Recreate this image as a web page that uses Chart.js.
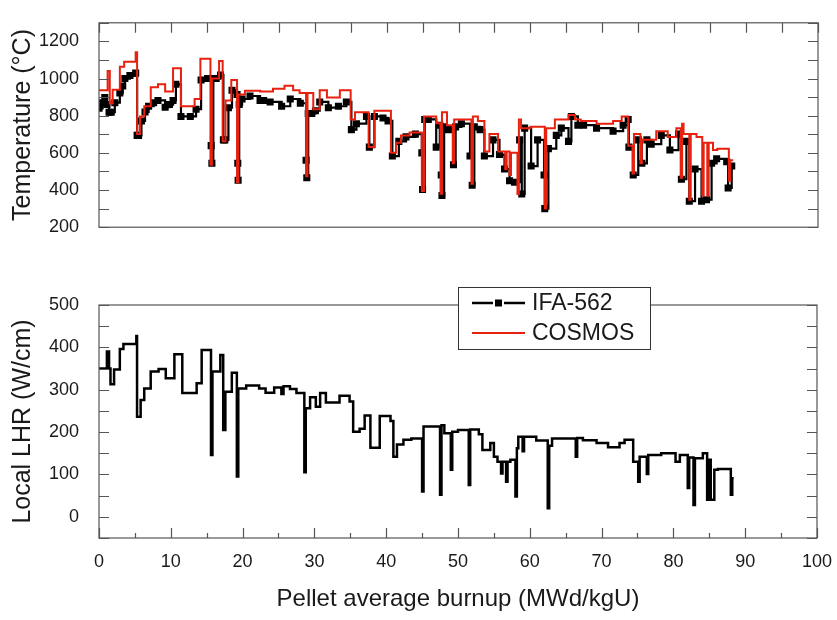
<!DOCTYPE html>
<html>
<head>
<meta charset="utf-8">
<script src="https://cdn.jsdelivr.net/npm/chart.js@4.4.1/dist/chart.umd.min.js"></script>
<style>
  body { margin: 0; background: #fff; }
  #wrap { position: relative; width: 837px; height: 620px; }
  canvas { position: absolute; left: 0; }
</style>
</head>
<body>
<div id="wrap">
  <canvas id="tempChart" width="837" height="250" style="top:0"></canvas>
  <canvas id="lhrChart" width="837" height="360" style="top:260px"></canvas>
</div>
<script>
// x ticks (burnup, MWd/kgU)
const burnupTicks = [0, 10, 20, 30, 40, 50, 60, 70, 80, 90, 100];
const tempTicks = [200, 400, 600, 800, 1000, 1200];
const lhrTicks = [0, 100, 200, 300, 400, 500];

// COSMOS calculated centre temperature (step: value holds until next burnup)
const cosmosBurnup = [0, 1.2, 1.5, 1.9, 2.9, 3.5, 5.1, 5.3, 5.7, 6.3, 7.2, 8.2, 9.2, 10.3, 11.4, 13.3, 14.1, 15.5, 15.7, 16.7,
  17.2, 17.6, 18.4, 19.2, 19.4, 20.3, 22.4, 24.2, 25.8, 27.0, 27.9, 28.8, 29.0, 29.8, 30.7, 31.7, 33.5, 35.0, 35.6, 37.5,
  38.3, 40.6, 41.3, 42.0, 43.2, 44.9, 45.2, 46.9, 47.5, 47.7, 48.4, 49.2, 49.4, 51.8, 52.0, 52.7, 53.6, 54.3, 55.5, 56.5,
  56.7, 57.1, 57.3, 58.2, 58.4, 58.7, 60.0, 62.0, 62.2, 63.4, 65.3, 66.2, 67.0, 69.2, 71.5, 72.7, 73.6, 74.2, 74.4, 75.3,
  75.5, 77.5, 79.1, 80.3, 80.9, 81.1, 81.3, 82.1, 82.3, 83.1, 83.9, 84.1, 84.6, 84.8, 85.4, 86.0, 87.6, 87.8, 88.2];
const cosmosTemp = [937, 1040, 866, 940, 1063, 1090, 1142, 701, 796, 851, 953, 969, 930, 1055, 851, 890, 1107, 536, 1000, 1095,
  662, 882, 992, 442, 914, 934, 930, 945, 961, 937, 922, 474, 922, 835, 937, 898, 937, 780, 819, 631,
  827, 600, 654, 694, 709, 395, 796, 760, 380, 819, 749, 544, 780, 434, 796, 772, 607, 701, 607, 513,
  607, 481, 600, 379, 780, 733, 740, 300, 733, 780, 804, 780, 772, 757, 772, 796, 639, 489, 701, 544,
  670, 717, 686, 733, 466, 757, 701, 348, 701, 686, 371, 654, 371, 654, 615, 622, 450, 560, 560];

// IFA-562 measured centre temperature
const ifaBurnup = [0, 0.5, 0.8, 1.1, 1.4, 1.7, 2.2, 2.9, 3.3, 3.6, 4.3, 5.1, 5.3, 5.5, 5.9, 6.4, 6.9, 7.6, 8.2, 9.2,
  9.8, 10.3, 10.7, 11.4, 12.7, 13.5, 14.2, 15.1, 15.5, 15.6, 15.7, 15.9, 16.3, 16.9, 17.3, 17.5, 18.0, 18.5, 19.2, 19.3,
  19.35, 19.5, 19.9, 21.0, 22.4, 22.9, 23.8, 25.4, 26.6, 28.0, 28.8, 28.9, 29.1, 29.6, 30.1, 30.7, 31.9, 33.3, 34.4, 35.1,
  35.8, 37.2, 37.6, 38.3, 39.5, 40.2, 40.8, 41.7, 42.7, 44.0, 44.9, 45.0, 45.3, 45.8, 46.9, 47.4, 47.6, 47.7, 48.0, 48.6,
  49.3, 49.6, 50.4, 51.6, 51.9, 52.2, 53.0, 53.6, 54.8, 55.7, 56.4, 57.1, 57.8, 58.5, 58.8, 59.2, 60.1, 61.0, 61.9, 62.0,
  62.5, 63.6, 64.3, 65.3, 65.7, 66.6, 67.4, 69.2, 71.5, 72.9, 73.6, 73.7, 74.3, 75.0, 75.5, 76.2, 76.8, 78.2, 79.4, 80.6,
  81.0, 81.7, 82.1, 82.9, 83.8, 84.5, 85.2, 85.9, 87.3, 87.5, 88.0];
const ifaTemp = [840, 870, 898, 860, 819, 819, 870, 922, 960, 1000, 1016, 1029, 694, 694, 772, 820, 851, 870, 882, 846,
  860, 882, 969, 796, 796, 835, 992, 1000, 1000, 639, 544, 1000, 1000, 1019, 670, 670, 843, 937, 914, 544,
  453, 860, 890, 906, 882, 882, 874, 851, 890, 867, 560, 466, 812, 812, 827, 874, 843, 851, 874, 725,
  757, 796, 631, 796, 788, 772, 583, 662, 686, 701, 600, 403, 780, 780, 631, 749, 481, 371, 740, 725,
  536, 740, 757, 583, 426, 740, 725, 583, 670, 591, 513, 450, 442, 670, 379, 733, 529, 670, 481, 300,
  623, 694, 733, 662, 796, 749, 749, 733, 717, 749, 780, 631, 481, 670, 544, 670, 647, 694, 615, 701,
  458, 662, 340, 513, 340, 348, 544, 568, 552, 411, 529];

// Local linear heat rate (W/cm)
const lhrBurnup = [0, 1.1, 1.4, 1.6, 2.1, 2.9, 3.4, 5.2, 5.3, 5.8, 6.3, 7.2, 8.3, 9.3, 10.5, 11.6, 13.6, 14.3, 15.6, 15.8,
  16.9, 17.3, 17.6, 18.5, 19.2, 19.4, 20.5, 22.3, 23.2, 24.4, 25.4, 25.7, 26.6, 27.5, 28.6, 28.8, 29.4, 30.2, 30.8, 31.6,
  33.5, 34.9, 35.4, 36.3, 37.0, 37.8, 39.1, 40.6, 41.0, 41.5, 42.4, 43.5, 45.0, 45.2, 47.5, 47.7, 48.1, 49.0, 49.2, 50.0,
  51.5, 51.7, 52.9, 53.4, 54.5, 55.0, 55.5, 56.0, 56.2, 56.7, 56.9, 57.3, 58.0, 58.2, 58.4, 59.0, 59.2, 60.9, 62.5, 62.7,
  63.1, 66.4, 66.6, 67.4, 69.3, 70.9, 72.5, 73.2, 74.4, 75.1, 75.3, 76.3, 76.5, 78.3, 80.3, 80.9, 82.0, 82.2, 82.8, 83.0,
  84.1, 84.7, 84.9, 85.2, 85.7, 86.2, 88.0, 88.2, 88.4];
const lhrValues = [350, 390, 350, 313, 348, 396, 408, 427, 236, 276, 303, 343, 349, 327, 384, 292, 315, 394, 146, 343,
  382, 205, 295, 340, 95, 303, 310, 303, 293, 305, 290, 308, 302, 292, 105, 256, 282, 260, 292, 270,
  286, 272, 201, 208, 239, 163, 238, 226, 142, 171, 182, 185, 60, 213, 52, 216, 197, 111, 201, 205,
  75, 206, 195, 158, 174, 142, 130, 102, 130, 83, 130, 135, 48, 162, 189, 155, 189, 180, 20, 168,
  185, 142, 186, 181, 174, 164, 174, 182, 130, 83, 142, 101, 146, 150, 130, 146, 68, 140, 28, 138,
  150, 40, 135, 40, 111, 113, 52, 91, 91];

const FONT = "'Liberation Sans', Arial, sans-serif";
const zip = (xs, ys) => xs.map((x, i) => ({ x: x, y: ys[i] }));

// box round the plot area with inward ticks
const framePlugin = {
  id: 'frame',
  afterDraw(chart, args, opts) {
    const { ctx, chartArea: a } = chart;
    const x = chart.scales.x, y = chart.scales.y;
    ctx.save();
    ctx.strokeStyle = '#555';
    ctx.lineWidth = 1.2;
    ctx.strokeRect(a.left, a.top, a.right - a.left, a.bottom - a.top);
    ctx.beginPath();
    for (let v = 0; v <= 100; v += 5) {
      const px = Math.round(x.getPixelForValue(v)) + 0.5;
      if (opts.topTicks) { ctx.moveTo(px, a.top); ctx.lineTo(px, a.top + 10); }
      if (opts.bottomTicks) {
        const len = v % 10 === 0 ? 10 : 5;
        ctx.moveTo(px, a.bottom); ctx.lineTo(px, a.bottom - len);
      }
    }
    for (let v = y.min; v <= y.max; v += opts.yMinor) {
      const py = Math.round(y.getPixelForValue(v)) + 0.5;
      ctx.moveTo(a.left, py); ctx.lineTo(a.left + 10, py);
      ctx.moveTo(a.right, py); ctx.lineTo(a.right - 10, py);
    }
    ctx.stroke();
    ctx.restore();
  }
};

const legendPlugin = {
  id: 'boxLegend',
  afterDraw(chart) {
    const { ctx, chartArea: a } = chart;
    const bx = a.left + 359, by = a.top - 18, bw = 192, bh = 62;
    ctx.save();
    ctx.fillStyle = '#fff';
    ctx.fillRect(bx, by, bw, bh);
    ctx.strokeStyle = '#333';
    ctx.lineWidth = 1;
    ctx.strokeRect(bx + 0.5, by + 0.5, bw, bh);
    const y1 = by + 16, y2 = by + 46;
    ctx.strokeStyle = '#000';
    ctx.lineWidth = 2.5;
    ctx.beginPath();
    ctx.moveTo(bx + 14, y1); ctx.lineTo(bx + 35, y1);
    ctx.moveTo(bx + 46, y1); ctx.lineTo(bx + 67, y1);
    ctx.stroke();
    ctx.fillStyle = '#000';
    ctx.fillRect(bx + 37, y1 - 3.5, 7, 7);
    ctx.strokeStyle = '#e8210f';
    ctx.lineWidth = 2;
    ctx.beginPath();
    ctx.moveTo(bx + 14, y2); ctx.lineTo(bx + 67, y2);
    ctx.stroke();
    ctx.fillStyle = '#1a1a1a';
    ctx.font = '23px ' + FONT;
    ctx.textBaseline = 'middle';
    ctx.fillText('IFA-562', bx + 74, y1 + 1);
    ctx.fillText('COSMOS', bx + 74, y2 + 1);
    ctx.restore();
  }
};

const yAxis = (min, max, ticks, title) => ({
  type: 'linear',
  min: min,
  max: max,
  afterBuildTicks: (s) => { s.ticks = ticks.map(v => ({ value: v })); },
  afterFit: (s) => { s.width = 99; },
  grid: { display: false },
  border: { display: false },
  ticks: { font: { family: FONT, size: 18 }, color: '#1a1a1a', padding: 12, callback: (v) => String(v) },
  title: { display: true, text: title, font: { family: FONT, size: 25 }, color: '#1a1a1a', padding: { top: 8, bottom: 0 } }
});

new Chart(document.getElementById('tempChart').getContext('2d'), {
  type: 'line',
  data: {
    datasets: [{
      label: 'IFA-562',
      data: zip(ifaBurnup, ifaTemp),
      order: 2,
      stepped: true,
      borderColor: '#000',
      borderWidth: 2.2,
      pointStyle: 'rect',
      pointRadius: 5,
      pointBackgroundColor: '#000',
      pointBorderWidth: 0
    }, {
      label: 'COSMOS',
      data: zip(cosmosBurnup, cosmosTemp),
      order: 1,
      stepped: true,
      borderColor: '#e8210f',
      borderWidth: 2,
      pointRadius: 0
    }]
  },
  options: {
    responsive: false,
    animation: false,
    devicePixelRatio: 1,
    layout: { padding: { top: 4, right: 19, bottom: 12, left: 0 } },
    plugins: { legend: { display: false }, tooltip: { enabled: false }, frame: { topTicks: true, bottomTicks: false, yMinor: 100 } },
    scales: {
      x: { type: 'linear', min: 0, max: 100, display: false },
      y: yAxis(200, 1300, tempTicks, 'Temperature (°C)')
    }
  },
  plugins: [framePlugin]
});

new Chart(document.getElementById('lhrChart').getContext('2d'), {
  type: 'line',
  data: {
    datasets: [{
      label: 'IFA-562',
      data: zip(lhrBurnup, lhrValues),
      stepped: true,
      borderColor: '#000',
      borderWidth: 2.5,
      pointRadius: 0
    }]
  },
  options: {
    responsive: false,
    animation: false,
    devicePixelRatio: 1,
    layout: { padding: { top: 45, right: 19, bottom: 0, left: 0 } },
    plugins: { legend: { display: false }, tooltip: { enabled: false }, frame: { topTicks: false, bottomTicks: true, yMinor: 50 } },
    scales: {
      x: {
        type: 'linear',
        min: 0,
        max: 100,
        afterBuildTicks: (s) => { s.ticks = burnupTicks.map(v => ({ value: v })); },
        afterFit: (s) => { s.height = 82; },
        grid: { display: false },
        border: { display: false },
        ticks: { font: { family: FONT, size: 18 }, color: '#1a1a1a', padding: 5, maxRotation: 0, callback: (v) => String(v) },
        title: { display: true, text: 'Pellet average burnup (MWd/kgU)', font: { family: FONT, size: 24 }, color: '#1a1a1a', padding: { top: 0, bottom: 6 } }
      },
      y: yAxis(-50, 500, lhrTicks, 'Local LHR (W/cm)')
    }
  },
  plugins: [framePlugin, legendPlugin]
});
</script>
</body>
</html>
